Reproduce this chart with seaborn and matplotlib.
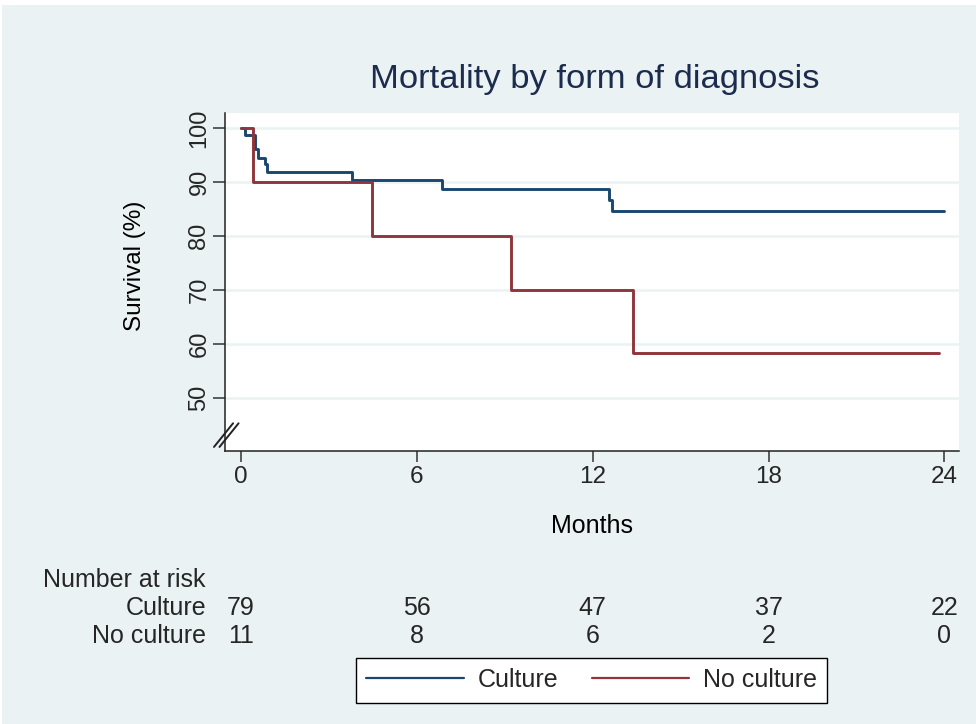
import numpy as np
import pandas as pd
import matplotlib
matplotlib.use("Agg")
import matplotlib.pyplot as plt
from matplotlib.patches import Rectangle
from matplotlib.transforms import blended_transform_factory
import seaborn as sns

# Kaplan-Meier step estimates (months, survival %)
culture_time = [0, 0.14, 0.48, 0.59, 0.82, 0.88, 3.80, 6.87, 12.54, 12.65, 24.0]
culture_surv = [100, 98.7, 96.1, 94.5, 93.3, 91.9, 90.3, 88.7, 86.7, 84.7, 84.7]
noculture_time = [0, 0.39, 4.46, 9.20, 13.36, 23.83]
noculture_surv = [100, 90.0, 80.0, 70.0, 58.3, 58.3]

groups = ["Culture", "No culture"]
risk_times = [0, 6, 12, 18, 24]
risk_culture = [79, 56, 47, 37, 22]
risk_noculture = [11, 8, 6, 2, 0]
y_ticks = [50, 60, 70, 80, 90, 100]

df = pd.concat([
    pd.DataFrame({"Months": culture_time, "Survival": culture_surv, "group": groups[0]}),
    pd.DataFrame({"Months": noculture_time, "Survival": noculture_surv, "group": groups[1]}),
], ignore_index=True)

BG = "#EAF2F3"
NAVY = "#1A476F"
MAROON = "#90353B"
FS = 18

sns.set_theme(style="white")
plt.rcParams["font.family"] = ["Liberation Sans", "DejaVu Sans"]

fig = plt.figure(figsize=(9.76, 7.24), dpi=100)
fig.patch.set_facecolor("white")
fig.patches.append(Rectangle((1.5 / 976, 0), 1, 1 - 5 / 724, transform=fig.transFigure,
                             facecolor=BG, edgecolor="none", zorder=-10))

ax = fig.add_axes([225 / 976, 1 - 451 / 724, 734 / 976, 338 / 724])
ax.set_facecolor("white")

sns.lineplot(data=df, x="Months", y="Survival", hue="group", hue_order=groups,
             palette=[NAVY, MAROON], estimator=None, drawstyle="steps-post",
             linewidth=2.1, ax=ax)

ax.set_xlim(-0.55, 24.5)
ax.set_ylim(40.2, 102.8)
ax.set_xticks(risk_times)
ax.set_yticks(y_ticks)
ax.yaxis.grid(True, color=BG, linewidth=1.8)
ax.xaxis.grid(False)
ax.set_axisbelow(True)

for side in ["top", "right"]:
    ax.spines[side].set_visible(False)
for side in ["left", "bottom"]:
    ax.spines[side].set_color("#222222")
    ax.spines[side].set_linewidth(1.1)

ax.tick_params(axis="x", direction="out", length=8, width=1.1, color="#333333",
               labelsize=17.5, pad=3, bottom=True)
ax.tick_params(axis="y", direction="out", length=8.5, width=1.1, color="#333333",
               labelsize=17, pad=2, left=True)
for lab in ax.get_yticklabels():
    lab.set_rotation(90)
    lab.set_va("center")

ax.set_xlabel("Months", fontsize=FS, color="black")
ax.xaxis.set_label_coords(0.5, (451 - 526) / 338)
ax.xaxis.label.set_va("center")
ax.set_ylabel("Survival (%)", fontsize=17.5, color="black")
ax.yaxis.set_label_coords((135 - 225) / 734, (451 - 266) / 338)
ax.yaxis.label.set_va("center")

# axis break marks on the y axis
for dx in (0.0, 0.0075):
    ax.plot([-0.0150 + dx, 0.0110 + dx], [0.012, 0.082], transform=ax.transAxes,
            color="#222222", linewidth=1.4, clip_on=False)

fig.text(595 / 976, 1 - 88 / 724, "Mortality by form of diagnosis", ha="center",
         va="baseline", fontsize=24.8, color="#1C2C4E")

# number at risk table
tr = blended_transform_factory(ax.transData, fig.transFigure)
fig.text(43 / 976, 1 - 580 / 724, "Number at risk", ha="left", va="center", fontsize=FS)
fig.text(206 / 976, 1 - 608 / 724, groups[0], ha="right", va="center", fontsize=FS)
fig.text(206 / 976, 1 - 636 / 724, groups[1], ha="right", va="center", fontsize=FS)
for t, a, b in zip(risk_times, risk_culture, risk_noculture):
    ax.text(t, 1 - 608 / 724, str(a), transform=tr, ha="center", va="center", fontsize=FS)
    ax.text(t, 1 - 636 / 724, str(b), transform=tr, ha="center", va="center", fontsize=FS)

sns.move_legend(ax, loc="center", bbox_to_anchor=(591.5 / 976, 1 - 680 / 724),
                bbox_transform=fig.transFigure, ncol=2, title=None, frameon=True,
                fancybox=False, framealpha=1, edgecolor="black", fontsize=FS,
                handlelength=3.9, handletextpad=0.55, columnspacing=1.35,
                borderpad=0.42, borderaxespad=0)
leg = ax.get_legend()
leg.get_frame().set_linewidth(1.0)
for line in leg.get_lines():
    line.set_linewidth(1.6)

fig.savefig("out.png", dpi=100, facecolor=fig.get_facecolor())
